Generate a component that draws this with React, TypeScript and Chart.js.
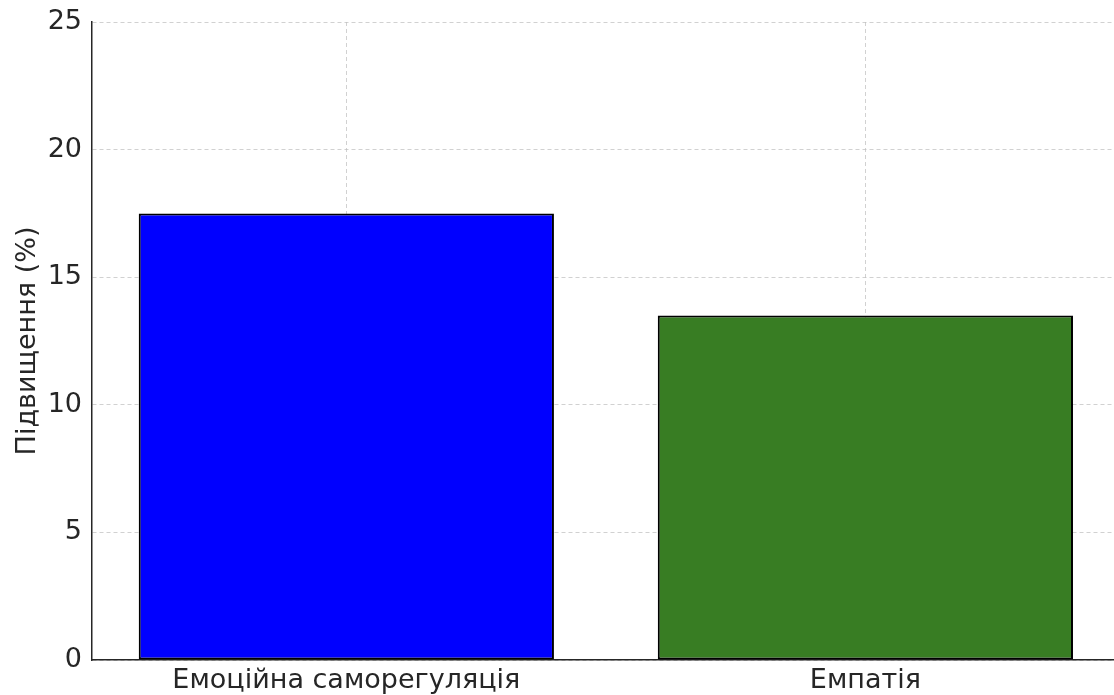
import React, { useEffect, useRef } from "react";
import { Chart, registerables } from "chart.js";

Chart.register(...registerables);

const categories: string[] = ["Емоційна саморегуляція", "Емпатія"];
const values: number[] = [17.5, 13.5];
const barColors: string[] = ["#0000ff", "#387d23"];
const yTicks: number[] = [0, 5, 10, 15, 20, 25];
const yTitle = "Підвищення (%)";

const FONT = "'DejaVu Sans', sans-serif";

export default function App() {
  const ref = useRef<HTMLCanvasElement | null>(null);

  useEffect(() => {
    document.body.style.margin = "0";
    const canvas = ref.current;
    if (!canvas) return;
    const chart = new Chart(canvas, {
      type: "bar",
      data: {
        datasets: [
          {
            data: values.map((v, i) => ({ x: i, y: v })),
            backgroundColor: barColors,
            borderColor: "#000000",
            borderWidth: 2,
            borderSkipped: false,
            barPercentage: 1,
            categoryPercentage: 0.8,
          },
        ],
      },
      options: {
        responsive: false,
        animation: false,
        layout: { padding: { top: 22, left: 0, right: 0, bottom: 0 } },
        plugins: { legend: { display: false }, tooltip: { enabled: false }, title: { display: false } },
        scales: {
          x: {
            type: "linear",
            min: -0.49,
            max: 1.479,
            offset: false,
            z: 1,
            afterBuildTicks: (scale: any) => {
              scale.ticks = categories.map((_, i) => ({ value: i }));
            },
            afterFit: (scale: any) => {
              scale.height = 35;
              scale.paddingLeft = 0;
              scale.paddingRight = 0;
            },
            ticks: {
              autoSkip: false,
              maxRotation: 0,
              padding: 5,
              color: "#262626",
              font: { family: FONT, size: 27 },
              callback: (v: any) => categories[Number(v)] ?? "",
            },
            grid: {
              offset: false,
              color: "rgba(190,190,190,0.7)",
              lineWidth: 1,
              drawTicks: false,
            },
            border: { display: true, color: "#262626", width: 1.5, dash: [4, 3] },
          },
          y: {
            type: "linear",
            min: 0,
            max: 25,
            z: 1,
            afterBuildTicks: (scale: any) => {
              scale.ticks = yTicks.map((v) => ({ value: v }));
            },
            afterFit: (scale: any) => {
              scale.width = 92;
              scale.paddingTop = 0;
              scale.paddingBottom = 0;
            },
            title: {
              display: true,
              text: yTitle,
              color: "#262626",
              font: { family: FONT, size: 27 },
              padding: { top: 12, bottom: 0 },
            },
            ticks: {
              padding: 10,
              color: "#262626",
              font: { family: FONT, size: 27 },
            },
            grid: {
              color: "rgba(190,190,190,0.7)",
              lineWidth: 1,
              drawTicks: false,
            },
            border: { display: true, color: "#262626", width: 1.5, dash: [4, 3] },
          },
        },
      },
    } as any);
    return () => chart.destroy();
  }, []);

  return (
    <div style={{ position: "fixed", left: 0, top: 0, width: 1114, height: 695, overflow: "hidden", background: "#fff" }}>
      <canvas ref={ref} width={1114} height={695} />
    </div>
  );
}
